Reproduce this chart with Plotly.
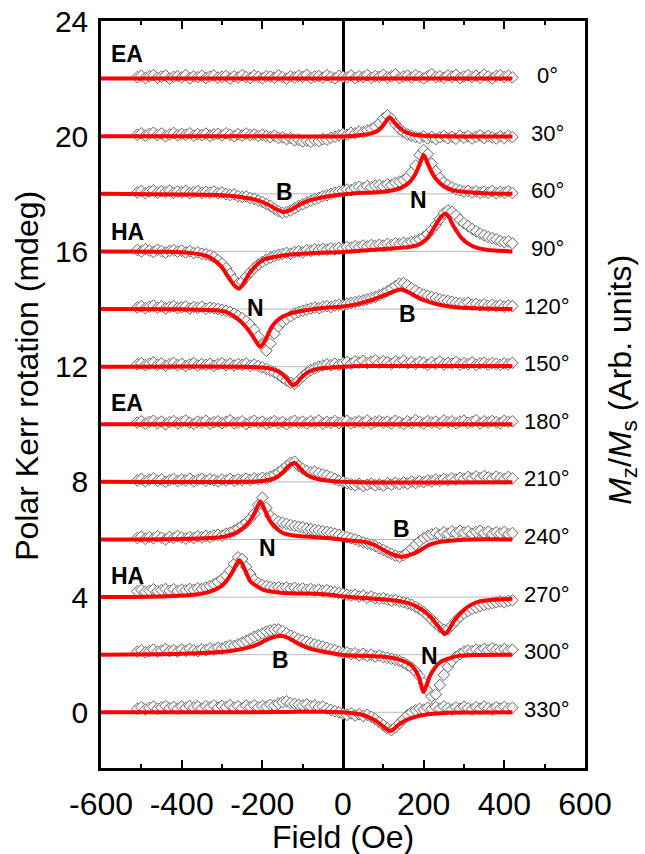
import plotly.graph_objects as go

# ---------------- data ----------------
angles = ["0°", "30°", "60°", "90°", "120°", "150°", "180°", "210°", "240°", "270°", "300°", "330°"]
offsets = [22, 20, 18, 16, 14, 12, 10, 8, 6, 4, 2, 0]

x_tick_vals = [-600, -400, -200, 0, 200, 400, 600]
x_tick_text = ["-600", "-400", "-200", "0", "200", "400", "600"]
y_tick_vals = [0, 4, 8, 12, 16, 20, 24]
y_tick_text = ["0", "4", "8", "12", "16", "20", "24"]

# measured field values (Oe)
field = [-510, -500, -490, -480, -470, -460, -450, -440, -430, -420,
         -410, -400, -390, -380, -370, -360, -350, -340, -330, -320,
         -310, -300, -290, -280, -270, -260, -250, -240, -230, -220,
         -210, -200, -190, -180, -170, -160, -150, -140, -130, -120,
         -110, -100, -90, -80, -70, -60, -50, -40, -30, -20,
         -10, 0, 10, 20, 30, 40, 50, 60, 70, 80,
         90, 100, 110, 120, 130, 140, 150, 160, 170, 180,
         190, 200, 210, 220, 230, 240, 250, 260, 270, 280,
         290, 300, 310, 320, 330, 340, 350, 360, 370, 380,
         390, 400, 410, 420]

# measured Kerr signal relative to each curve's offset (mdeg)
d000 = [0.05, 0.10, 0.02, 0.08, 0.12, 0.03, 0.07, 0.11, 0.00, 0.06,
        0.09, 0.04, 0.12, 0.01, 0.08, 0.05, 0.10, 0.02, 0.07, 0.11,
        0.03, 0.06, 0.09, 0.00, 0.08, 0.04, 0.12, 0.05, 0.02, 0.10,
        0.06, 0.01, 0.09, 0.07, 0.03, 0.11, 0.05, 0.00, 0.08, 0.04,
        0.10, 0.06, 0.13, 0.02, 0.07, 0.09, 0.03, 0.12, 0.05, 0.01,
        0.10, 0.06, 0.04, 0.11, 0.02, 0.08, 0.05, 0.12, 0.03, 0.09,
        0.06, 0.13, 0.04, 0.08, 0.15, 0.02, 0.07, 0.10, 0.04, 0.12,
        0.06, 0.01, 0.09, 0.16, 0.05, 0.08, 0.03, 0.11, 0.06, 0.13,
        0.02, 0.08, 0.12, 0.05, 0.10, 0.03, 0.14, 0.07, 0.01, 0.09,
        0.12, 0.05, 0.10, 0.04]
d030 = [0.05, 0.10, 0.02, 0.08, 0.12, 0.04, 0.09, 0.00, 0.06, 0.11,
        0.03, 0.08, 0.05, 0.10, 0.02, 0.07, 0.04, 0.09, 0.01, 0.06,
        0.08, 0.03, 0.10, 0.05, 0.00, 0.07, 0.02, 0.09, 0.04, 0.06,
        0.01, 0.05, 0.00, -0.03, 0.02, -0.06, -0.04, -0.10, -0.07, -0.14,
        -0.12, -0.18, -0.15, -0.20, -0.14, -0.17, -0.10, -0.12, -0.05, -0.02,
        0.03, 0.08, 0.05, 0.12, 0.10, 0.16, 0.14, 0.20, 0.25, 0.32,
        0.45, 0.62, 0.72, 0.60, 0.42, 0.25, 0.14, 0.06, 0.02, -0.03,
        -0.06, 0.00, -0.08, -0.03, -0.10, -0.04, 0.01, -0.07, -0.02, -0.09,
        0.02, -0.05, 0.00, -0.08, -0.02, 0.03, -0.06, 0.01, -0.04, -0.08,
        0.00, -0.06, 0.02, -0.03]
d060 = [0.05, 0.10, 0.02, 0.08, 0.12, 0.04, 0.09, 0.06, 0.11, 0.03,
        0.08, 0.05, 0.10, 0.02, 0.06, 0.09, 0.03, 0.07, 0.04, 0.08,
        0.02, 0.05, -0.01, -0.04, -0.02, -0.08, -0.11, -0.09, -0.15, -0.18,
        -0.24, -0.28, -0.36, -0.42, -0.52, -0.60, -0.66, -0.63, -0.58, -0.50,
        -0.42, -0.36, -0.30, -0.24, -0.18, -0.14, -0.08, -0.05, 0.00, 0.04,
        0.08, 0.10, 0.15, 0.13, 0.20, 0.24, 0.20, 0.27, 0.23, 0.28,
        0.30, 0.26, 0.33, 0.30, 0.38, 0.42, 0.48, 0.58, 0.75, 0.98,
        1.35, 1.52, 1.38, 1.05, 0.78, 0.55, 0.40, 0.30, 0.22, 0.16,
        0.12, 0.08, 0.10, 0.05, 0.09, 0.03, 0.07, 0.04, 0.10, 0.02,
        0.07, 0.04, 0.09, 0.03]
d090 = [0.05, 0.00, 0.08, 0.03, -0.02, 0.06, 0.01, -0.04, 0.02, 0.05,
        -0.01, 0.03, -0.04, 0.01, -0.06, -0.03, -0.08, -0.10, -0.14, -0.20,
        -0.30, -0.42, -0.58, -0.78, -0.98, -1.12, -1.05, -0.88, -0.72, -0.58,
        -0.45, -0.36, -0.28, -0.22, -0.16, -0.12, -0.09, -0.05, -0.08, -0.02,
        0.00, -0.03, 0.04, 0.02, 0.07, 0.05, 0.09, 0.06, 0.11, 0.08,
        0.12, 0.10, 0.15, 0.13, 0.18, 0.15, 0.20, 0.17, 0.22, 0.19,
        0.23, 0.20, 0.26, 0.22, 0.28, 0.25, 0.30, 0.27, 0.33, 0.36,
        0.42, 0.50, 0.60, 0.75, 0.92, 1.12, 1.32, 1.42, 1.38, 1.25,
        1.10, 0.98, 0.88, 0.78, 0.70, 0.62, 0.56, 0.50, 0.46, 0.42,
        0.36, 0.32, 0.35, 0.28]
d120 = [0.05, 0.10, 0.03, 0.08, 0.12, 0.04, 0.09, 0.02, 0.07, 0.10,
        0.03, 0.06, 0.09, 0.02, 0.07, 0.04, 0.08, 0.01, 0.05, 0.03,
        0.00, -0.03, -0.06, -0.10, -0.16, -0.24, -0.32, -0.42, -0.55, -0.72,
        -0.95, -1.25, -1.45, -1.20, -0.85, -0.60, -0.45, -0.34, -0.25, -0.16,
        -0.10, -0.06, -0.02, 0.02, 0.05, 0.03, 0.08, 0.10, 0.07, 0.12,
        0.15, 0.13, 0.18, 0.21, 0.24, 0.27, 0.30, 0.34, 0.38, 0.42,
        0.48, 0.54, 0.62, 0.70, 0.80, 0.88, 0.90, 0.82, 0.72, 0.64,
        0.56, 0.50, 0.46, 0.42, 0.38, 0.34, 0.31, 0.28, 0.25, 0.22,
        0.20, 0.17, 0.22, 0.15, 0.18, 0.13, 0.16, 0.11, 0.15, 0.10,
        0.13, 0.08, 0.12, 0.10]
d150 = [0.08, 0.12, 0.05, 0.10, 0.15, 0.06, 0.11, 0.03, 0.09, 0.13,
        0.05, 0.10, 0.02, 0.08, 0.12, 0.04, 0.09, 0.06, 0.10, 0.03,
        0.08, 0.12, 0.05, 0.10, 0.04, 0.09, 0.06, 0.11, 0.03, 0.07,
        0.02, -0.03, -0.08, -0.14, -0.20, -0.28, -0.38, -0.48, -0.56, -0.60,
        -0.48, -0.34, -0.22, -0.12, -0.06, 0.00, 0.04, 0.08, 0.05, 0.10,
        0.06, 0.12, 0.16, 0.10, 0.18, 0.14, 0.20, 0.12, 0.17, 0.22,
        0.13, 0.19, 0.15, 0.10, 0.18, 0.14, 0.21, 0.11, 0.16, 0.09,
        0.17, 0.13, 0.06, 0.15, 0.10, 0.18, 0.08, 0.13, 0.10, 0.16,
        0.07, 0.12, 0.09, 0.15, 0.06, 0.11, 0.14, 0.08, 0.12, 0.10,
        0.06, 0.11, 0.08, 0.13]
d180 = [0.06, 0.10, 0.02, 0.08, 0.12, 0.04, 0.09, 0.00, 0.07, 0.11,
        0.03, 0.08, 0.13, 0.05, 0.01, 0.09, 0.06, 0.12, 0.02, 0.07,
        0.10, 0.04, 0.08, 0.14, 0.03, 0.06, 0.10, 0.01, 0.07, 0.12,
        0.05, 0.09, 0.02, 0.06, 0.11, 0.04, 0.08, 0.00, 0.07, 0.12,
        0.05, 0.09, 0.03, 0.10, 0.06, 0.13, 0.02, 0.08, 0.05, 0.11,
        0.04, 0.09, 0.12, 0.03, 0.07, 0.10, 0.05, 0.13, 0.02, 0.08,
        0.11, 0.06, 0.09, 0.03, 0.12, 0.07, 0.01, 0.10, 0.05, 0.14,
        0.08, 0.03, 0.11, 0.06, 0.09, 0.02, 0.13, 0.07, 0.10, 0.04,
        0.09, 0.12, 0.05, 0.08, 0.14, 0.03, 0.10, 0.06, 0.11, 0.07,
        0.04, 0.12, 0.08, 0.10]
d210 = [0.05, 0.10, 0.02, 0.07, 0.12, 0.04, 0.08, 0.00, 0.06, 0.10,
        0.03, 0.08, 0.05, 0.11, 0.02, 0.07, 0.10, 0.04, 0.09, 0.06,
        0.02, 0.08, 0.05, 0.10, 0.04, 0.09, 0.06, 0.11, 0.07, 0.12,
        0.09, 0.14, 0.12, 0.18, 0.24, 0.32, 0.42, 0.55, 0.66, 0.70,
        0.55, 0.45, 0.38, 0.33, 0.36, 0.30, 0.26, 0.22, 0.16, 0.10,
        0.04, 0.00, -0.05, -0.08, -0.12, -0.07, -0.14, -0.10, -0.06, -0.12,
        -0.08, -0.13, -0.05, -0.10, -0.03, -0.08, -0.02, -0.06, 0.01, -0.04,
        0.02, -0.01, 0.05, 0.02, 0.08, 0.04, 0.10, 0.06, 0.12, 0.08,
        0.14, 0.10, 0.17, 0.12, 0.19, 0.13, 0.20, 0.15, 0.11, 0.18,
        0.13, 0.10, 0.17, 0.12]
d240 = [0.05, 0.10, 0.02, 0.08, 0.04, 0.11, 0.06, 0.00, 0.09, 0.05,
        0.12, 0.07, 0.03, 0.09, 0.05, 0.11, 0.07, 0.12, 0.09, 0.14,
        0.16, 0.13, 0.20, 0.24, 0.30, 0.38, 0.48, 0.58, 0.72, 0.90,
        1.20, 1.45, 1.10, 0.82, 0.70, 0.62, 0.58, 0.54, 0.50, 0.47,
        0.44, 0.42, 0.38, 0.36, 0.33, 0.31, 0.28, 0.26, 0.23, 0.20,
        0.16, 0.12, 0.08, 0.04, 0.00, -0.05, -0.10, -0.14, -0.18, -0.23,
        -0.30, -0.36, -0.43, -0.50, -0.56, -0.60, -0.55, -0.45, -0.32, -0.18,
        -0.06, 0.05, 0.12, 0.18, 0.22, 0.16, 0.25, 0.20, 0.28, 0.22,
        0.30, 0.24, 0.28, 0.20, 0.26, 0.30, 0.22, 0.27, 0.19, 0.25,
        0.21, 0.26, 0.18, 0.22]
d270 = [0.20, 0.25, 0.18, 0.22, 0.27, 0.20, 0.24, 0.28, 0.22, 0.27,
        0.21, 0.26, 0.23, 0.28, 0.25, 0.30, 0.28, 0.33, 0.38, 0.44,
        0.52, 0.62, 0.75, 0.92, 1.15, 1.38, 1.32, 1.05, 0.80, 0.60,
        0.48, 0.42, 0.38, 0.35, 0.32, 0.34, 0.30, 0.33, 0.29, 0.32,
        0.27, 0.30, 0.25, 0.28, 0.23, 0.26, 0.21, 0.24, 0.19, 0.17,
        0.14, 0.11, 0.08, 0.05, 0.08, 0.02, 0.05, -0.02, 0.02, -0.04,
        -0.06, -0.04, -0.09, -0.12, -0.10, -0.15, -0.18, -0.22, -0.27, -0.34,
        -0.42, -0.52, -0.64, -0.78, -0.92, -1.05, -1.14, -1.12, -0.98, -0.82,
        -0.68, -0.57, -0.48, -0.41, -0.36, -0.31, -0.27, -0.24, -0.21, -0.18,
        -0.15, -0.18, -0.13, -0.11]
d300 = [0.10, 0.15, 0.08, 0.12, 0.18, 0.10, 0.14, 0.20, 0.12, 0.16,
        0.10, 0.18, 0.13, 0.20, 0.15, 0.12, 0.19, 0.16, 0.22, 0.18,
        0.24, 0.21, 0.27, 0.32, 0.30, 0.36, 0.42, 0.48, 0.55, 0.62,
        0.68, 0.74, 0.80, 0.84, 0.87, 0.88, 0.82, 0.74, 0.66, 0.60,
        0.54, 0.49, 0.45, 0.40, 0.36, 0.32, 0.28, 0.24, 0.19, 0.15,
        0.10, 0.06, 0.08, 0.02, 0.05, -0.02, 0.03, -0.04, 0.00, -0.06,
        -0.03, -0.08, -0.11, -0.14, -0.18, -0.22, -0.28, -0.36, -0.45, -0.58,
        -0.75, -0.98, -1.25, -1.45, -1.38, -1.05, -0.70, -0.42, -0.22, -0.08,
        0.02, 0.10, 0.15, 0.12, 0.18, 0.14, 0.20, 0.16, 0.22, 0.17,
        0.14, 0.19, 0.13, 0.17]
d330 = [0.12, 0.18, 0.10, 0.15, 0.20, 0.12, 0.17, 0.22, 0.14, 0.19,
        0.12, 0.20, 0.15, 0.22, 0.16, 0.20, 0.13, 0.21, 0.17, 0.24,
        0.15, 0.22, 0.18, 0.25, 0.16, 0.21, 0.14, 0.23, 0.18, 0.24,
        0.17, 0.22, 0.19, 0.26, 0.23, 0.30, 0.35, 0.38, 0.32, 0.29,
        0.26, 0.23, 0.27, 0.21, 0.24, 0.18, 0.20, 0.13, 0.08, 0.04,
        0.00, -0.05, -0.09, -0.04, -0.11, -0.07, -0.13, -0.09, -0.16, -0.24,
        -0.34, -0.45, -0.56, -0.62, -0.52, -0.38, -0.24, -0.10, 0.00, 0.07,
        0.12, 0.09, 0.16, 0.11, 0.18, 0.13, 0.20, 0.14, 0.10, 0.17,
        0.12, 0.19, 0.14, 0.10, 0.18, 0.12, 0.20, 0.14, 0.10, 0.18,
        0.13, 0.19, 0.12, 0.16]

# fitted curves (field, signal relative to offset)
fit000_x = [-600, 420]
fit000_y = [0, 0]
fit030_x = [-600, -200, -100, -20, 20, 50, 70, 85, 97, 107, 116, 126, 138, 152, 170, 200, 250, 330, 420]
fit030_y = [0, 0, -0.01, -0.01, 0.01, 0.05, 0.1, 0.18, 0.33, 0.52, 0.65, 0.5, 0.32, 0.16, 0.07, 0.02, 0, -0.01, -0.01]
fit060_x = [-600, -400, -300, -250, -213, -185, -165, -147, -130, -110, -90, -60, -20, 30, 93, 143, 165, 180,
            192, 200, 208, 218, 230, 248, 270, 300, 350, 420]
fit060_y = [0, -0.02, -0.05, -0.12, -0.22, -0.38, -0.54, -0.63, -0.56, -0.4, -0.26, -0.15, -0.05, 0.02, 0.06, 0.2,
            0.4, 0.7, 1.1, 1.34, 1.12, 0.8, 0.52, 0.28, 0.14, 0.07, 0.02, 0]
fit090_x = [-600, -450, -380, -340, -320, -300, -287, -275, -265, -257, -249, -240, -229, -210, -196, -160, -130,
            -80, 0, 60, 118, 160, 185, 205, 217, 230, 243, 254, 263, 273, 283, 293, 310, 333, 360, 390, 420]
fit090_y = [0, -0.01, -0.05, -0.15, -0.29, -0.55, -0.83, -1.08, -1.24, -1.29, -1.16, -0.95, -0.7, -0.42, -0.28,
            -0.17, -0.11, -0.06, -0.02, 0.04, 0.1, 0.15, 0.22, 0.4, 0.62, 0.92, 1.2, 1.31, 1.18, 0.9, 0.68, 0.48,
            0.27, 0.12, 0.05, 0.02, 0]
fit120_x = [-600, -400, -320, -290, -265, -250, -235, -222, -212, -205, -198, -188, -178, -165, -150, -130, -100,
            -50, 0, 35, 77, 110, 130, 143, 160, 180, 200, 242, 280, 324, 420]
fit120_y = [0, -0.01, -0.04, -0.1, -0.3, -0.48, -0.72, -0.98, -1.2, -1.31, -1.2, -0.95, -0.65, -0.42, -0.27, -0.15,
            -0.06, 0.04, 0.09, 0.17, 0.34, 0.52, 0.63, 0.68, 0.6, 0.44, 0.31, 0.14, 0.06, 0.03, 0]
fit150_x = [-600, -250, -200, -180, -160, -147, -137, -128, -122, -115, -106, -97, -85, -64, -30, 0, 50, 150, 420]
fit150_y = [0, 0, -0.03, -0.07, -0.17, -0.3, -0.45, -0.6, -0.64, -0.58, -0.42, -0.3, -0.18, -0.08, -0.03, 0, 0.02,
            0.02, 0.02]
fit180_x = [-600, 420]
fit180_y = [0, 0]
fit210_x = [-600, -250, -200, -175, -163, -150, -140, -130, -120, -112, -102, -92, -81, -60, -30, 0, 60, 200, 420]
fit210_y = [0, 0, 0.03, 0.1, 0.18, 0.32, 0.48, 0.6, 0.66, 0.56, 0.4, 0.27, 0.18, 0.09, 0.03, 0, -0.02, -0.02, -0.01]
fit240_x = [-600, -400, -330, -295, -270, -254, -240, -229, -218, -210, -205, -198, -190, -180, -165, -147, -120,
            -89, -40, -6, 30, 52, 80, 101, 125, 147, 170, 192, 215, 242, 280, 324, 420]
fit240_y = [0, 0.02, 0.05, 0.1, 0.2, 0.33, 0.5, 0.68, 0.95, 1.2, 1.32, 1.15, 0.9, 0.62, 0.38, 0.21, 0.14, 0.1, 0.05,
            0, -0.05, -0.08, -0.2, -0.37, -0.53, -0.6, -0.52, -0.37, -0.18, -0.08, -0.03, 0, 0]
fit270_x = [-600, -450, -384, -340, -320, -300, -287, -275, -265, -257, -250, -240, -229, -210, -196, -160, -130,
            -48, 19, 70, 118, 160, 184, 200, 217, 235, 247, 253, 262, 272, 283, 300, 316, 340, 366, 420]
fit270_y = [0, 0.02, 0.06, 0.15, 0.24, 0.4, 0.59, 0.85, 1.12, 1.28, 1.15, 0.85, 0.53, 0.35, 0.24, 0.16, 0.13, 0.1,
            0, -0.05, -0.1, -0.2, -0.34, -0.48, -0.69, -1.0, -1.2, -1.28, -1.15, -0.9, -0.69, -0.45, -0.28, -0.14,
            -0.1, -0.06]
fit300_x = [-600, -400, -296, -260, -229, -205, -188, -170, -151, -135, -120, -105, -80, -48, 2, 50, 101, 130, 150,
            168, 180, 190, 199, 206, 215, 228, 242, 265, 283, 330, 420]
fit300_y = [0, 0.03, 0.1, 0.17, 0.27, 0.4, 0.53, 0.62, 0.65, 0.58, 0.46, 0.34, 0.2, 0.1, -0.01, -0.04, -0.07,
            -0.13, -0.22, -0.35, -0.55, -0.85, -1.29, -1.1, -0.75, -0.45, -0.25, -0.12, -0.05, -0.01, 0]
fit330_x = [-600, -300, -150, -48, 0, 40, 68, 85, 100, 110, 118, 126, 135, 143, 160, 184, 210, 242, 300, 420]
fit330_y = [0, 0, 0.01, 0.02, 0, -0.06, -0.2, -0.33, -0.5, -0.6, -0.65, -0.58, -0.47, -0.38, -0.25, -0.14, -0.07,
            -0.03, -0.01, 0]

measured = [d000, d030, d060, d090, d120, d150, d180, d210, d240, d270, d300, d330]
fits = [(fit000_x, fit000_y), (fit030_x, fit030_y), (fit060_x, fit060_y), (fit090_x, fit090_y),
        (fit120_x, fit120_y), (fit150_x, fit150_y), (fit180_x, fit180_y), (fit210_x, fit210_y),
        (fit240_x, fit240_y), (fit270_x, fit270_y), (fit300_x, fit300_y), (fit330_x, fit330_y)]

# text labels: (text, field, signal, anchor)
axis_labels = [("EA", -581, 22.87, "left"), ("HA", -581, 16.68, "left"),
               ("EA", -581, 10.74, "left"), ("HA", -581, 4.73, "left"),
               ("B", -146, 18.06, "center"), ("N", 188, 17.78, "center"),
               ("N", -217, 14.02, "center"), ("B", 161, 13.84, "center"),
               ("N", -188, 5.69, "center"), ("B", 144, 6.35, "center"),
               ("B", -154, 1.81, "center"), ("N", 214, 1.95, "center")]

FONT = "Liberation Sans, Arial, sans-serif"

fig = go.Figure()

# baselines
shapes = []
for off in offsets:
    shapes.append(dict(type="line", xref="x", yref="y", x0=-600, x1=field[-1], y0=off, y1=off,
                       line=dict(color="#b9b9b9", width=1), layer="below"))

# measured points
for off, d in zip(offsets, measured):
    fig.add_trace(go.Scatter(
        x=field, y=[off + v for v in d], mode="markers",
        marker=dict(symbol="diamond", size=9, color="#f4f4f4",
                    line=dict(color="#666666", width=1)),
        showlegend=False, hoverinfo="skip"))

# fitted curves
for off, (fx, fy) in zip(offsets, fits):
    fig.add_trace(go.Scatter(
        x=fx, y=[off + v for v in fy], mode="lines",
        line=dict(color="#ff0000", width=4, shape="spline", smoothing=0.9),
        showlegend=False, hoverinfo="skip"))

annotations = []
for ang, off in zip(angles, offsets):
    annotations.append(dict(x=506, y=off + 0.1, xref="x", yref="y", text=ang, showarrow=False,
                            xanchor="center", yanchor="middle",
                            font=dict(family=FONT, size=22, color="black")))
for txt, fx, fy, anc in axis_labels:
    annotations.append(dict(x=fx, y=fy, xref="x", yref="y", text="<b>" + txt + "</b>", showarrow=False,
                            xanchor=anc, yanchor="middle",
                            font=dict(family=FONT, size=23, color="black")))

annotations.append(dict(x=-0.153, y=0.525, xref="paper", yref="paper",
                        text="Polar Kerr rotation (mdeg)", textangle=-90, showarrow=False,
                        xanchor="center", yanchor="middle",
                        font=dict(family=FONT, size=32, color="black")))
annotations.append(dict(x=1.077, y=0.52, xref="paper", yref="paper",
                        text="<i>M</i><sub>z</sub>/<i>M</i><sub>s</sub> (Arb. units)", textangle=-90,
                        showarrow=False, xanchor="center", yanchor="middle",
                        font=dict(family=FONT, size=32, color="black")))
annotations.append(dict(x=0.5, y=-0.093, xref="paper", yref="paper",
                        text="Field (Oe)", showarrow=False, xanchor="center", yanchor="middle",
                        font=dict(family=FONT, size=32, color="black")))

fig.update_layout(
    width=645, height=854,
    margin=dict(l=101, r=60, t=21, b=86, autoexpand=False),
    paper_bgcolor="white", plot_bgcolor="white",
    shapes=shapes, annotations=annotations,
    xaxis=dict(range=[-600, 600], tickmode="array", tickvals=x_tick_vals, ticktext=x_tick_text,
               ticks="inside", ticklen=8, tickwidth=2, tickcolor="black",
               showline=True, linecolor="black", linewidth=2.5, mirror="ticks",
               showgrid=False, zeroline=True, zerolinecolor="black", zerolinewidth=2.5,
               tickfont=dict(family=FONT, size=32, color="black"), ticklabelstandoff=6,
               automargin=False,
               minor=dict(tickmode="linear", tick0=-600, dtick=100, ticks="inside", ticklen=4,
                          tickwidth=2, tickcolor="black", showgrid=False)),
    yaxis=dict(range=[-1.934, 24], tickmode="array", tickvals=y_tick_vals, ticktext=y_tick_text,
               ticks="", showline=True, linecolor="black", linewidth=2.5, mirror=True,
               showgrid=False, zeroline=False, automargin=False,
               tickfont=dict(family=FONT, size=30, color="black"), ticklabelstandoff=4),
)

fig.write_html("out.html", config={"displayModeBar": False},
               post_script="document.body.style.margin='0';")
